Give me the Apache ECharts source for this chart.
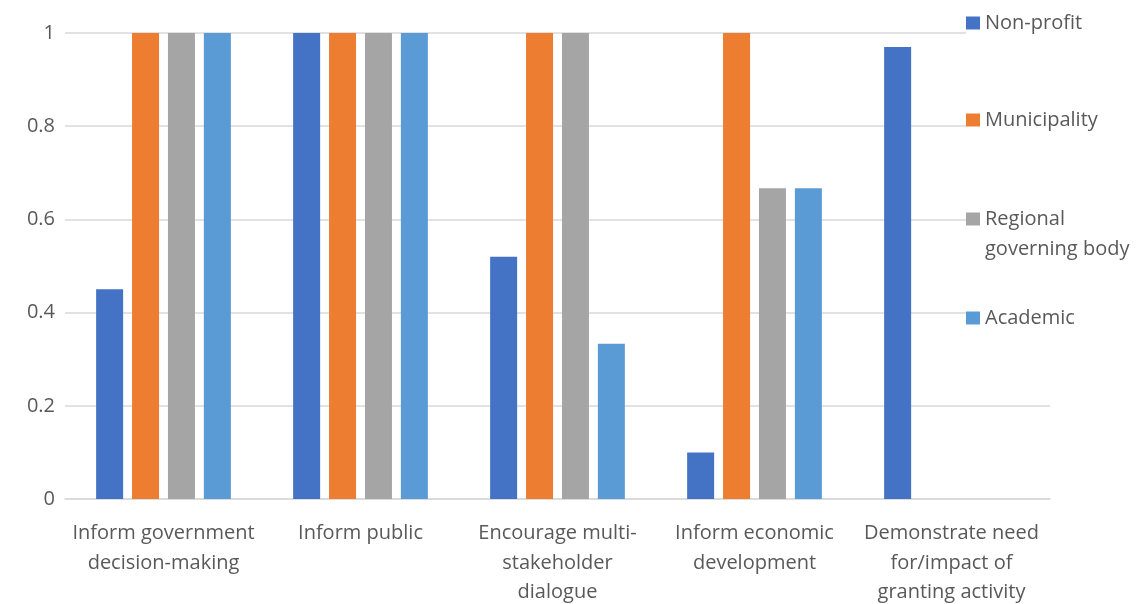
<!DOCTYPE html>
<html>
<head>
<meta charset="utf-8">
<style>
  html, body { margin: 0; padding: 0; background: #fff; }
  #chart { width: 1141px; height: 604px; }
</style>
<script src="https://cdn.jsdelivr.net/npm/echarts@6/dist/echarts.min.js"></script>
</head>
<body>
<div id="chart"></div>
<script>
// Purpose categories along the x axis
const categories = [
  'Inform government\ndecision-making',
  'Inform public',
  'Encourage multi-\nstakeholder\ndialogue',
  'Inform economic\ndevelopment',
  'Demonstrate need\nfor/impact of\ngranting activity'
];

// Share of respondents per organisation type
const nonProfit    = [0.45, 1, 0.52, 0.10, 0.97];
const municipality = [1, 1, 1, 1, 0];
const regional     = [1, 1, 1, 0.667, 0];
const academic     = [1, 1, 0.333, 0.667, 0];

const yTicks = { min: 0, max: 1, interval: 0.2 };

const seriesNames = ['Non-profit', 'Municipality', 'Regional governing body', 'Academic'];
const seriesData = [nonProfit, municipality, regional, academic];
const colors = ['#4472C4', '#ED7D31', '#A5A5A5', '#5B9BD5'];

const FONT = '"Open Sans", sans-serif';
const TEXT = '#595959';
const GRID = '#D9D9D9';

const chart = echarts.init(document.getElementById('chart'), null, { renderer: 'canvas' });

// One legend block per series so each entry sits beside its own gridline.
// The two-line entry gets an empty leading line so its first line stays
// level with the swatch.
const legendTops = [11, 108, 174, 306];
const legends = seriesNames.map((name, i) => {
  const twoLine = name === 'Regional governing body';
  return {
    data: [name],
    left: 966,
    top: legendTops[i],
    orient: 'vertical',
    padding: [0, 6, 0, 0],
    backgroundColor: '#fff',
    itemWidth: 14,
    itemHeight: 13,
    itemGap: 0,
    icon: 'rect',
    selectedMode: false,
    formatter: twoLine ? '\nRegional\ngoverning body' : '{name}',
    textStyle: {
      fontFamily: FONT,
      fontSize: 20,
      color: TEXT,
      lineHeight: twoLine ? 30 : 24
    }
  };
});

chart.setOption({
  animation: false,
  color: colors,
  textStyle: { fontFamily: FONT },
  grid: {
    left: 65, right: 91, top: 33, bottom: 105,
    containLabel: false,
    outerBoundsMode: 'none'
  },
  legend: legends,
  xAxis: {
    type: 'category',
    data: categories,
    axisLine: { lineStyle: { color: GRID, width: 1.5 } },
    axisTick: { show: false },
    axisLabel: {
      interval: 0,
      margin: 20,
      color: TEXT,
      fontFamily: FONT,
      fontSize: 20,
      lineHeight: 29.5
    }
  },
  yAxis: {
    type: 'value',
    min: yTicks.min,
    max: yTicks.max,
    interval: yTicks.interval,
    axisLine: { show: false },
    axisTick: { show: false },
    splitLine: { lineStyle: { color: GRID, width: 1.5 } },
    axisLabel: {
      margin: 10,
      color: TEXT,
      fontFamily: FONT,
      fontSize: 20
    }
  },
  series: seriesNames.map((name, i) => ({
    name: name,
    type: 'bar',
    data: seriesData[i],
    barWidth: 27,
    barGap: '33%',
    itemStyle: { color: colors[i] }
  }))
});
</script>
</body>
</html>
